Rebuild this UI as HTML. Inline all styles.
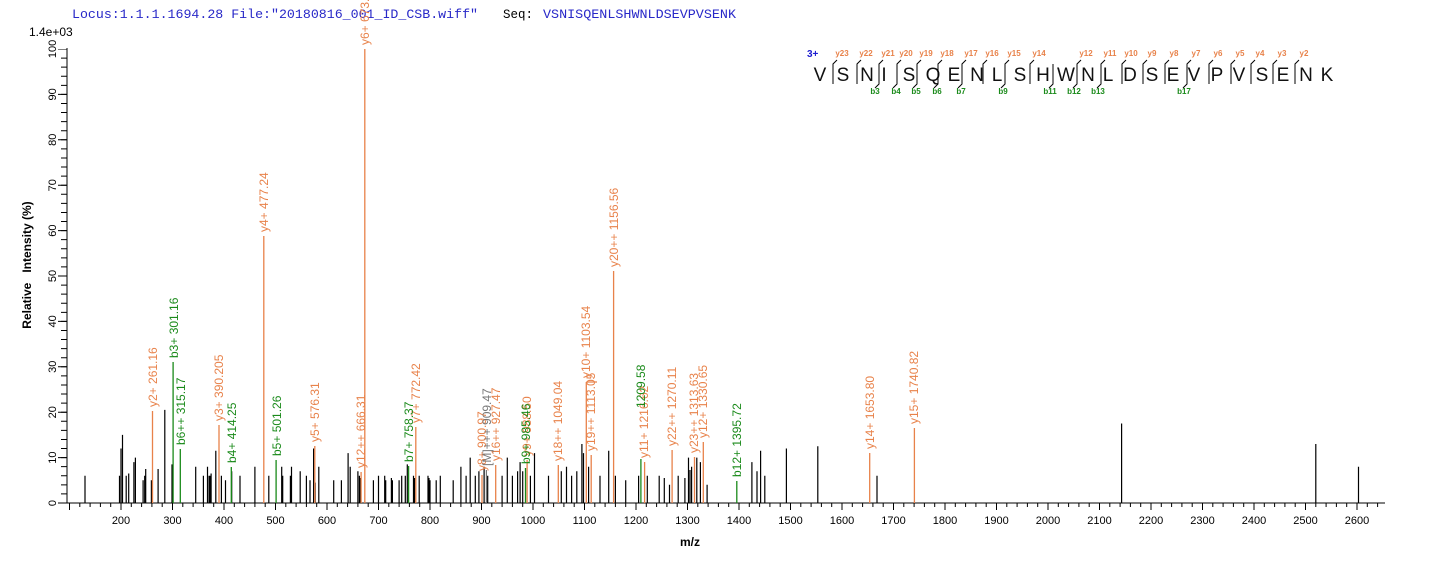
<!DOCTYPE html>
<html><head><meta charset="utf-8"><style>
body{margin:0;background:#fff;}
svg{display:block;font-family:"Liberation Sans",sans-serif;}
.o{stroke:#e8824a;stroke-width:1.3}
.g{stroke:#1a8a1a;stroke-width:1.3}
.ot{fill:#e8824a;font-size:12px}
.gt{fill:#1a8a1a;font-size:12px}
.tl{font-size:11px;fill:#000;text-anchor:middle}
.sq{font-size:19px;fill:#111;text-anchor:middle}
.ys{font-size:8px;fill:#e8824a;text-anchor:middle;font-weight:bold}
.bs{font-size:8px;fill:#1a8a1a;text-anchor:middle;font-weight:bold}
</style></head><body>
<svg width="1436" height="562" viewBox="0 0 1436 562">
<text x="72" y="18" font-family="Liberation Mono,monospace" font-size="13" fill="#2828c8" textLength="406" lengthAdjust="spacingAndGlyphs">Locus:1.1.1.1694.28 File:"20180816_001_ID_CSB.wiff"</text>
<text x="503" y="18" font-family="Liberation Mono,monospace" font-size="13" fill="#000" textLength="30" lengthAdjust="spacingAndGlyphs">Seq:</text>
<text x="543" y="18" font-family="Liberation Mono,monospace" font-size="13" fill="#2828c8" textLength="193" lengthAdjust="spacingAndGlyphs">VSNISQENLSHWNLDSEVPVSENK</text>
<text x="29" y="36" font-size="12" fill="#000">1.4e+03</text>
<!-- axes -->
<line x1="67" y1="48" x2="67" y2="503" stroke="#000"/>
<line x1="67" y1="503" x2="1385" y2="503" stroke="#000"/>
<line x1="69" y1="505" x2="1381" y2="505" stroke="#000" stroke-width="4" stroke-dasharray="1 9.3"/>
<line x1="69" y1="506.5" x2="1381" y2="506.5" stroke="#000" stroke-width="7" stroke-dasharray="1 50.5"/>
<line x1="64" y1="503.5" x2="64" y2="49" stroke="#000" stroke-width="6" stroke-dasharray="1 8.08"/>
<line x1="62.5" y1="503.5" x2="62.5" y2="49" stroke="#000" stroke-width="9" stroke-dasharray="1 44.4"/>
<g font-size="11" fill="#000" text-anchor="middle">
<text transform="translate(56,503) rotate(-90)">0</text>
<text transform="translate(56,457.6) rotate(-90)">10</text>
<text transform="translate(56,412.2) rotate(-90)">20</text>
<text transform="translate(56,366.8) rotate(-90)">30</text>
<text transform="translate(56,321.4) rotate(-90)">40</text>
<text transform="translate(56,276) rotate(-90)">50</text>
<text transform="translate(56,230.6) rotate(-90)">60</text>
<text transform="translate(56,185.2) rotate(-90)">70</text>
<text transform="translate(56,139.8) rotate(-90)">80</text>
<text transform="translate(56,94.4) rotate(-90)">90</text>
<text transform="translate(56,49) rotate(-90)">100</text>
</g>
<g class="tl">
<text x="121" y="524">200</text><text x="172.5" y="524">300</text><text x="224" y="524">400</text><text x="275.5" y="524">500</text><text x="327" y="524">600</text><text x="378.5" y="524">700</text><text x="430" y="524">800</text><text x="481.5" y="524">900</text><text x="533" y="524">1000</text><text x="584.5" y="524">1100</text><text x="636" y="524">1200</text><text x="687.5" y="524">1300</text><text x="739" y="524">1400</text><text x="790.5" y="524">1500</text><text x="842" y="524">1600</text><text x="893.5" y="524">1700</text><text x="945" y="524">1800</text><text x="996.5" y="524">1900</text><text x="1048" y="524">2000</text><text x="1099.5" y="524">2100</text><text x="1151" y="524">2200</text><text x="1202.5" y="524">2300</text><text x="1254" y="524">2400</text><text x="1305.5" y="524">2500</text><text x="1357" y="524">2600</text>
</g>
<text x="690" y="546" font-size="12" font-weight="bold" text-anchor="middle">m/z</text>
<text transform="translate(31,265) rotate(-90)" font-size="12" font-weight="bold" text-anchor="middle" xml:space="preserve">Relative   Intensity (%)</text>
<!-- black peaks -->
<path stroke="#000" stroke-width="1.2" fill="none" d="M85 503V475.8M119.5 503V475.8M121 503V448.5M122.5 503V434.9M126.2 503V475.8M128.7 503V473.5M133.9 503V462.1M135.4 503V457.6M143.1 503V480.3M144.7 503V475.8M145.7 503V469M151.4 503V480.3M158.1 503V469M164.8 503V409.9M172 503V464.4M195.7 503V466.7M203.4 503V475.8M207.5 503V466.7M209.1 503V475.8M210.1 503V475.8M211.1 503V473.5M215.8 503V450.8M221.4 503V475.8M225.5 503V480.3M231.7 503V471.2M240 503V475.8M254.9 503V466.7M268.8 503V475.8M281.7 503V466.7M282.7 503V475.8M290.4 503V475.8M291.5 503V466.7M300.2 503V471.2M306.4 503V475.8M310 503V480.3M313.6 503V448.5M315.2 503V482.6M318.8 503V466.7M333.7 503V480.3M341.4 503V480.3M348.1 503V453.1M350.2 503V466.7M357.9 503V471.2M359.4 503V475.8M360.5 503V478M373.4 503V480.3M378.5 503V475.8M384.7 503V475.8M385.7 503V480.3M391.4 503V478M392.4 503V480.3M399.1 503V480.3M401.7 503V475.8M405.3 503V475.8M407.3 503V464.4M413.5 503V475.8M414.6 503V478M419.2 503V475.8M428 503V475.8M429 503V478M430 503V480.3M436.2 503V480.3M440.3 503V475.8M453.2 503V480.3M460.9 503V466.7M466.1 503V475.8M470.2 503V457.6M475.3 503V475.8M478.9 503V471.2M484.1 503V466.7M487.7 503V475.8M502.1 503V475.8M507.3 503V457.6M512.4 503V475.8M517.6 503V471.2M520.1 503V462.1M522.7 503V471.2M530.4 503V475.8M534.5 503V453.1M548.5 503V475.8M561.3 503V471.2M566.5 503V466.7M571.6 503V475.8M576.8 503V471.2M581.9 503V444M583.5 503V453.1M588.6 503V466.7M600 503V475.8M608.7 503V450.8M615.4 503V475.8M625.7 503V480.3M638.6 503V475.8M647.3 503V475.8M659.2 503V475.8M664.3 503V478M669.5 503V484.8M678.2 503V475.8M684.9 503V478M688.5 503V457.6M690 503V470M691.6 503V466.7M696.8 503V457.6M700.4 503V462.1M707.1 503V484.8M751.9 503V462.1M757 503V471.2M760.6 503V450.8M764.8 503V475.8M786.4 503V448.5M817.8 503V446.3M877 503V475.8M1121.6 503V423.5M1315.8 503V444M1358.5 503V466.7"/>
<line x1="486.4" y1="503" x2="486.4" y2="470" stroke="#777" stroke-width="1.2"/>
<path class="o" fill="none" d="M152.5 503V411M219 503V425M263.8 503V236M314.8 503V446M361.1 503V472M364.8 503V49M415.8 503V427M482 503V475M495.7 503V465M527.1 503V460M558.3 503V465M586.3 503V382M591.2 503V455M613.6 503V271M644.6 503V462M672.1 503V450M694.5 503V457M703.3 503V442M869.7 503V453M914.4 503V428M586.3 382H597"/>
<path class="g" fill="none" d="M173.1 503V362M180.3 503V449M231.3 503V467M276.1 503V460M408.6 503V466M525.5 503V468M640.9 503V459M736.8 503V481"/>
<g class="ot">
<text transform="translate(157,407) rotate(-90)">y2+ 261.16</text>
<text transform="translate(223,421) rotate(-90)">y3+ 390.205</text>
<text transform="translate(268,232) rotate(-90)">y4+ 477.24</text>
<text transform="translate(319,442) rotate(-90)">y5+ 576.31</text>
<text transform="translate(365,468) rotate(-90)">y12++ 666.31</text>
<text transform="translate(369,45) rotate(-90)">y6+ 673.36</text>
<text transform="translate(420,423) rotate(-90)">y7+ 772.42</text>
<text transform="translate(486,471) rotate(-90)">y8+ 900.97</text>
<text transform="translate(500,461) rotate(-90)">y16++ 927.47</text>
<text transform="translate(531,456) rotate(-90)">y9+ 988.50</text>
<text transform="translate(562,461) rotate(-90)">y18++ 1049.04</text>
<text transform="translate(590,378) rotate(-90)">y10+ 1103.54</text>
<text transform="translate(595,451) rotate(-90)">y19++ 1113.05</text>
<text transform="translate(618,267) rotate(-90)">y20++ 1156.56</text>
<text transform="translate(648,458) rotate(-90)">y11+ 1216.62</text>
<text transform="translate(676,446) rotate(-90)">y22++ 1270.11</text>
<text transform="translate(698,453) rotate(-90)">y23++ 1313.63</text>
<text transform="translate(707,438) rotate(-90)">y12+ 1330.65</text>
<text transform="translate(874,449) rotate(-90)">y14+ 1653.80</text>
<text transform="translate(918,424) rotate(-90)">y15+ 1740.82</text>
</g>
<g class="gt">
<text transform="translate(178,358) rotate(-90)">b3+ 301.16</text>
<text transform="translate(185,445) rotate(-90)">b6++ 315.17</text>
<text transform="translate(236,463) rotate(-90)">b4+ 414.25</text>
<text transform="translate(281,456) rotate(-90)">b5+ 501.26</text>
<text transform="translate(413,462) rotate(-90)">b7+ 758.37</text>
<text transform="translate(530,464) rotate(-90)">b9+ 985.46</text>
<text transform="translate(645,408) rotate(-90)">1209.58</text>
<text transform="translate(741,477) rotate(-90)">b12+ 1395.72</text>
</g>
<text transform="translate(491,466) rotate(-90)" font-size="12" fill="#777">[M]+++ 909.47</text>
<!-- sequence -->
<text x="807" y="57" font-size="10" font-weight="bold" fill="#1c1cd0">3+</text>
<g class="sq">
<text x="820" y="81">V</text><text x="843" y="81">S</text><text x="867" y="81">N</text><text x="884" y="81">I</text><text x="909" y="81">S</text><text x="933" y="81">Q</text><text x="954" y="81">E</text><text x="977" y="81">N</text><text x="997" y="81">L</text><text x="1020" y="81">S</text><text x="1043" y="81">H</text><text x="1066" y="81">W</text><text x="1088" y="81">N</text><text x="1108" y="81">L</text><text x="1130" y="81">D</text><text x="1152" y="81">S</text><text x="1173" y="81">E</text><text x="1194" y="81">V</text><text x="1217" y="81">P</text><text x="1239" y="81">V</text><text x="1262" y="81">S</text><text x="1283" y="81">E</text><text x="1306" y="81">N</text><text x="1327" y="81">K</text>
</g>
<path stroke="#000" stroke-width="1" fill="none" d="M837 60L833 64V84M861 60L857 64V84M883 60L879 64V84L875 88M901 60L897 64V84L893 88M921 60L917 64V84L913 88M942 60L938 64V84L934 88M966 60L962 64V84L958 88M987 60L983 64V84M1009 60L1005 64V84L1001 88M1034 60L1030 64V84M1053 64V84L1049 88M1081 60L1077 64V84L1073 88M1105 60L1101 64V84L1097 88M1126 60L1122 64V84M1147 60L1143 64V84M1169 60L1165 64V84M1191 60L1187 64V84L1183 88M1213 60L1209 64V84M1235 60L1231 64V84M1255 60L1251 64V84M1277 60L1273 64V84M1299 60L1295 64V84"/>
<g class="ys">
<text x="842" y="56">y23</text><text x="866" y="56">y22</text><text x="888" y="56">y21</text><text x="906" y="56">y20</text><text x="926" y="56">y19</text><text x="947" y="56">y18</text><text x="971" y="56">y17</text><text x="992" y="56">y16</text><text x="1014" y="56">y15</text><text x="1039" y="56">y14</text><text x="1086" y="56">y12</text><text x="1110" y="56">y11</text><text x="1131" y="56">y10</text><text x="1152" y="56">y9</text><text x="1174" y="56">y8</text><text x="1196" y="56">y7</text><text x="1218" y="56">y6</text><text x="1240" y="56">y5</text><text x="1260" y="56">y4</text><text x="1282" y="56">y3</text><text x="1304" y="56">y2</text>
</g>
<g class="bs">
<text x="875" y="94">b3</text><text x="896" y="94">b4</text><text x="916" y="94">b5</text><text x="937" y="94">b6</text><text x="961" y="94">b7</text><text x="1003" y="94">b9</text><text x="1050" y="94">b11</text><text x="1074" y="94">b12</text><text x="1098" y="94">b13</text><text x="1184" y="94">b17</text>
</g>
</svg>
</body></html>
